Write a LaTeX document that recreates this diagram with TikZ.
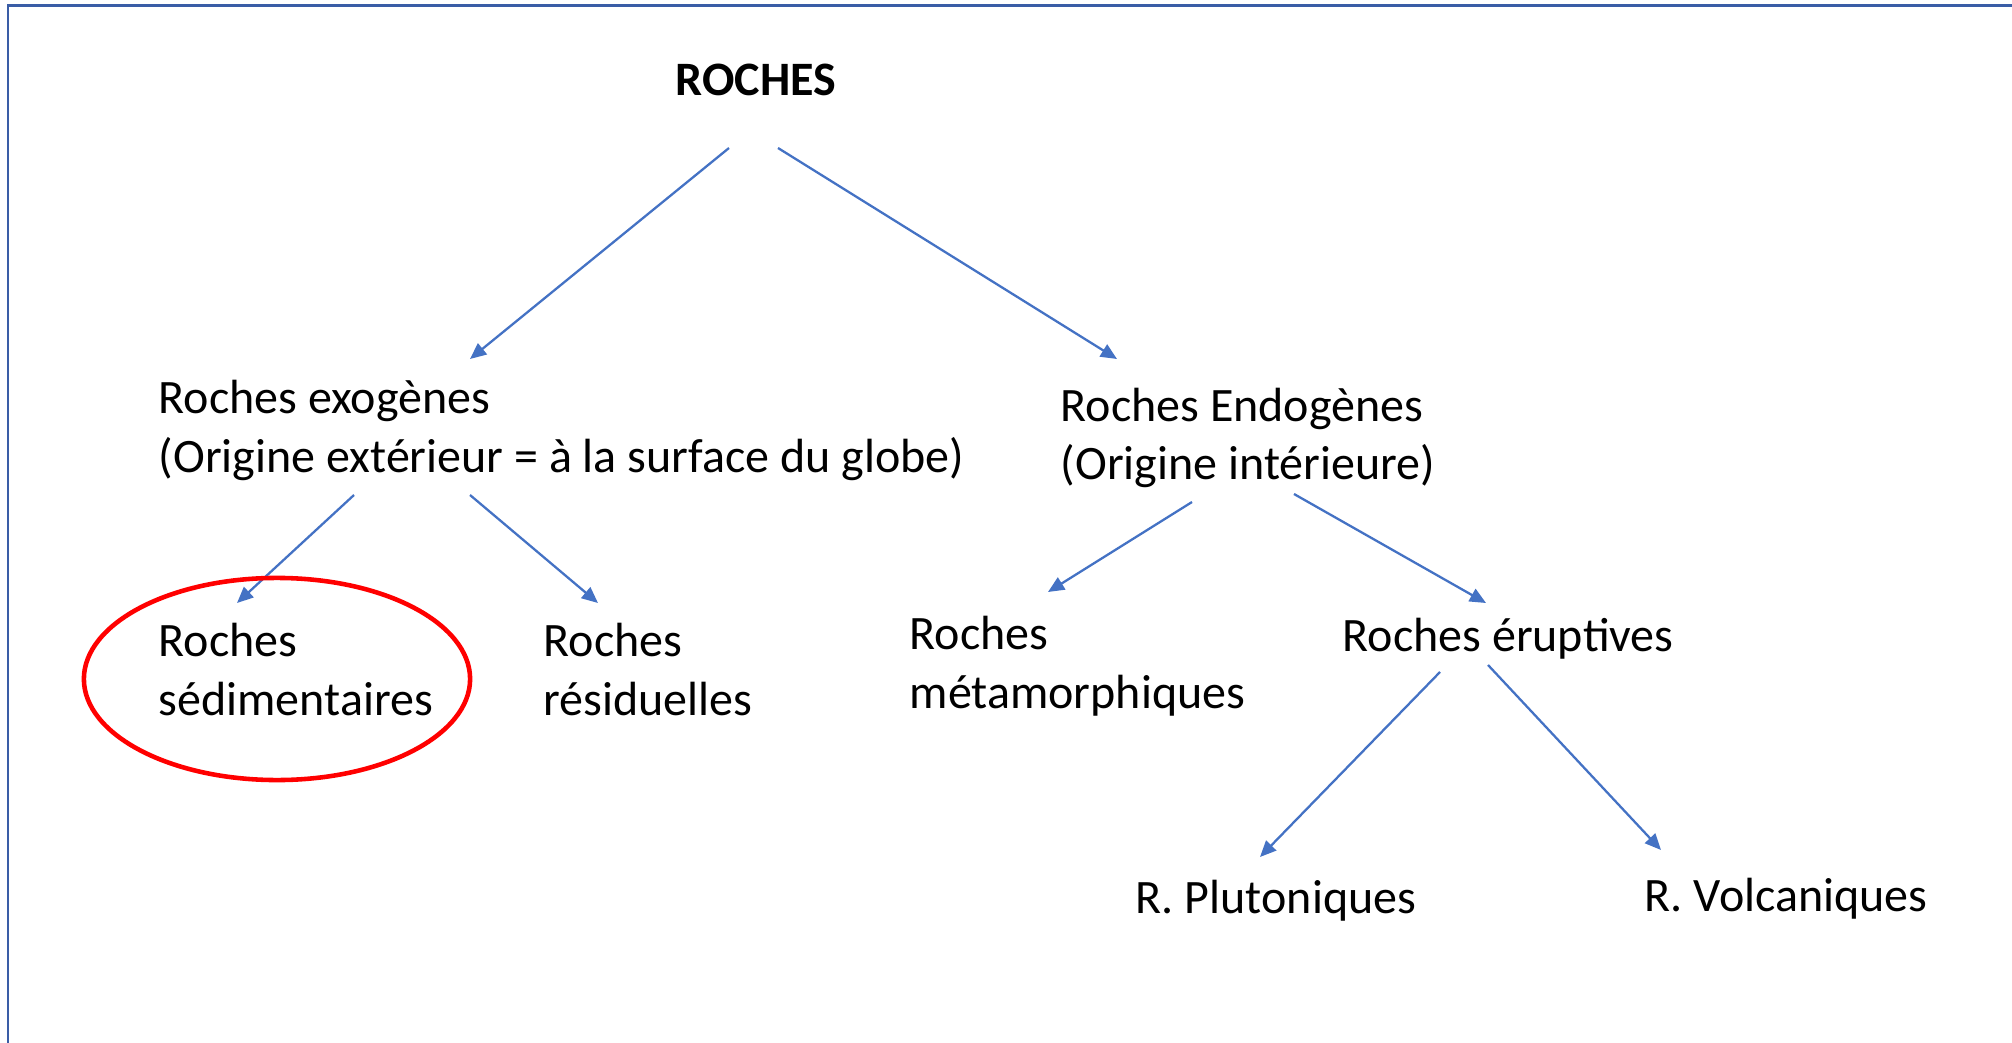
\documentclass[tikz,border=0pt]{standalone}
\usepackage{fontspec}
\setmainfont{Carlito}
\usepackage{xcolor}
\usepackage{tikz}
\usetikzlibrary{arrows.meta, positioning}

\definecolor{cadrebleu}{HTML}{3A5DA6}
\definecolor{flechebleu}{HTML}{4472C4}

\begin{document}
\begin{tikzpicture}[x=0.01cm, y=-0.01cm,
  txt/.style={anchor=base west, inner sep=0pt, align=left, font=\fontsize{13.65}{16.6}\selectfont},
  fl/.style={flechebleu, line width=0.65pt, -{Triangle[length=4.6pt, width=4pt]}},
  cercle/.style={red, line width=1.3pt}]
\useasboundingbox (0,0) rectangle (2012,1043);
\draw[cadrebleu, line width=0.85pt] (2012,5.5) -- (8,5.5) -- (8,1043);
\node[txt, font=\fontsize{13.65}{16.6}\selectfont\bfseries] (roches) at (675,96) {ROCHES};
\node[txt] (exo) at (158,472) {Roches exogènes\\(Origine extérieur = à la surface du globe)};
\node[txt] (endo) at (1060,480) {Roches Endogènes\\(Origine intérieure)};
\node[txt] (sedi) at (158,715) {Roches\\sédimentaires};
\node[txt] (resi) at (543,715) {Roches\\résiduelles};
\node[txt] (meta) at (909,708) {Roches\\métamorphiques};
\node[txt] (erup) at (1342,651) {Roches éruptives};
\node[txt] (pluto) at (1135,913) {R. Plutoniques};
\node[txt] (volca) at (1644,911) {R. Volcaniques};
\draw[fl] ([shift={(54,52)}]roches.base west) -- ([shift={(312,-113)}]exo.base west);
\draw[fl] ([shift={(103,52)}]roches.base west) -- ([shift={(57,-121)}]endo.base west);
\draw[fl] ([shift={(196,23)}]exo.base west) -- ([shift={(79,-112)}]sedi.base west);
\draw[fl] ([shift={(312,23)}]exo.base west) -- ([shift={(55,-112)}]resi.base west);
\draw[fl] ([shift={(132,22)}]endo.base west) -- ([shift={(139,-116)}]meta.base west);
\draw[fl] ([shift={(234,14)}]endo.base west) -- ([shift={(144,-48)}]erup.base west);
\draw[fl] ([shift={(98,21)}]erup.base west) -- ([shift={(125,-56)}]pluto.base west);
\draw[fl] ([shift={(146,14)}]erup.base west) -- ([shift={(17,-61)}]volca.base west);
\draw[cercle] ([shift={(119,-36)}]sedi.base west) ellipse [x radius=1.93cm, y radius=1.01cm];
\end{tikzpicture}
\end{document}
